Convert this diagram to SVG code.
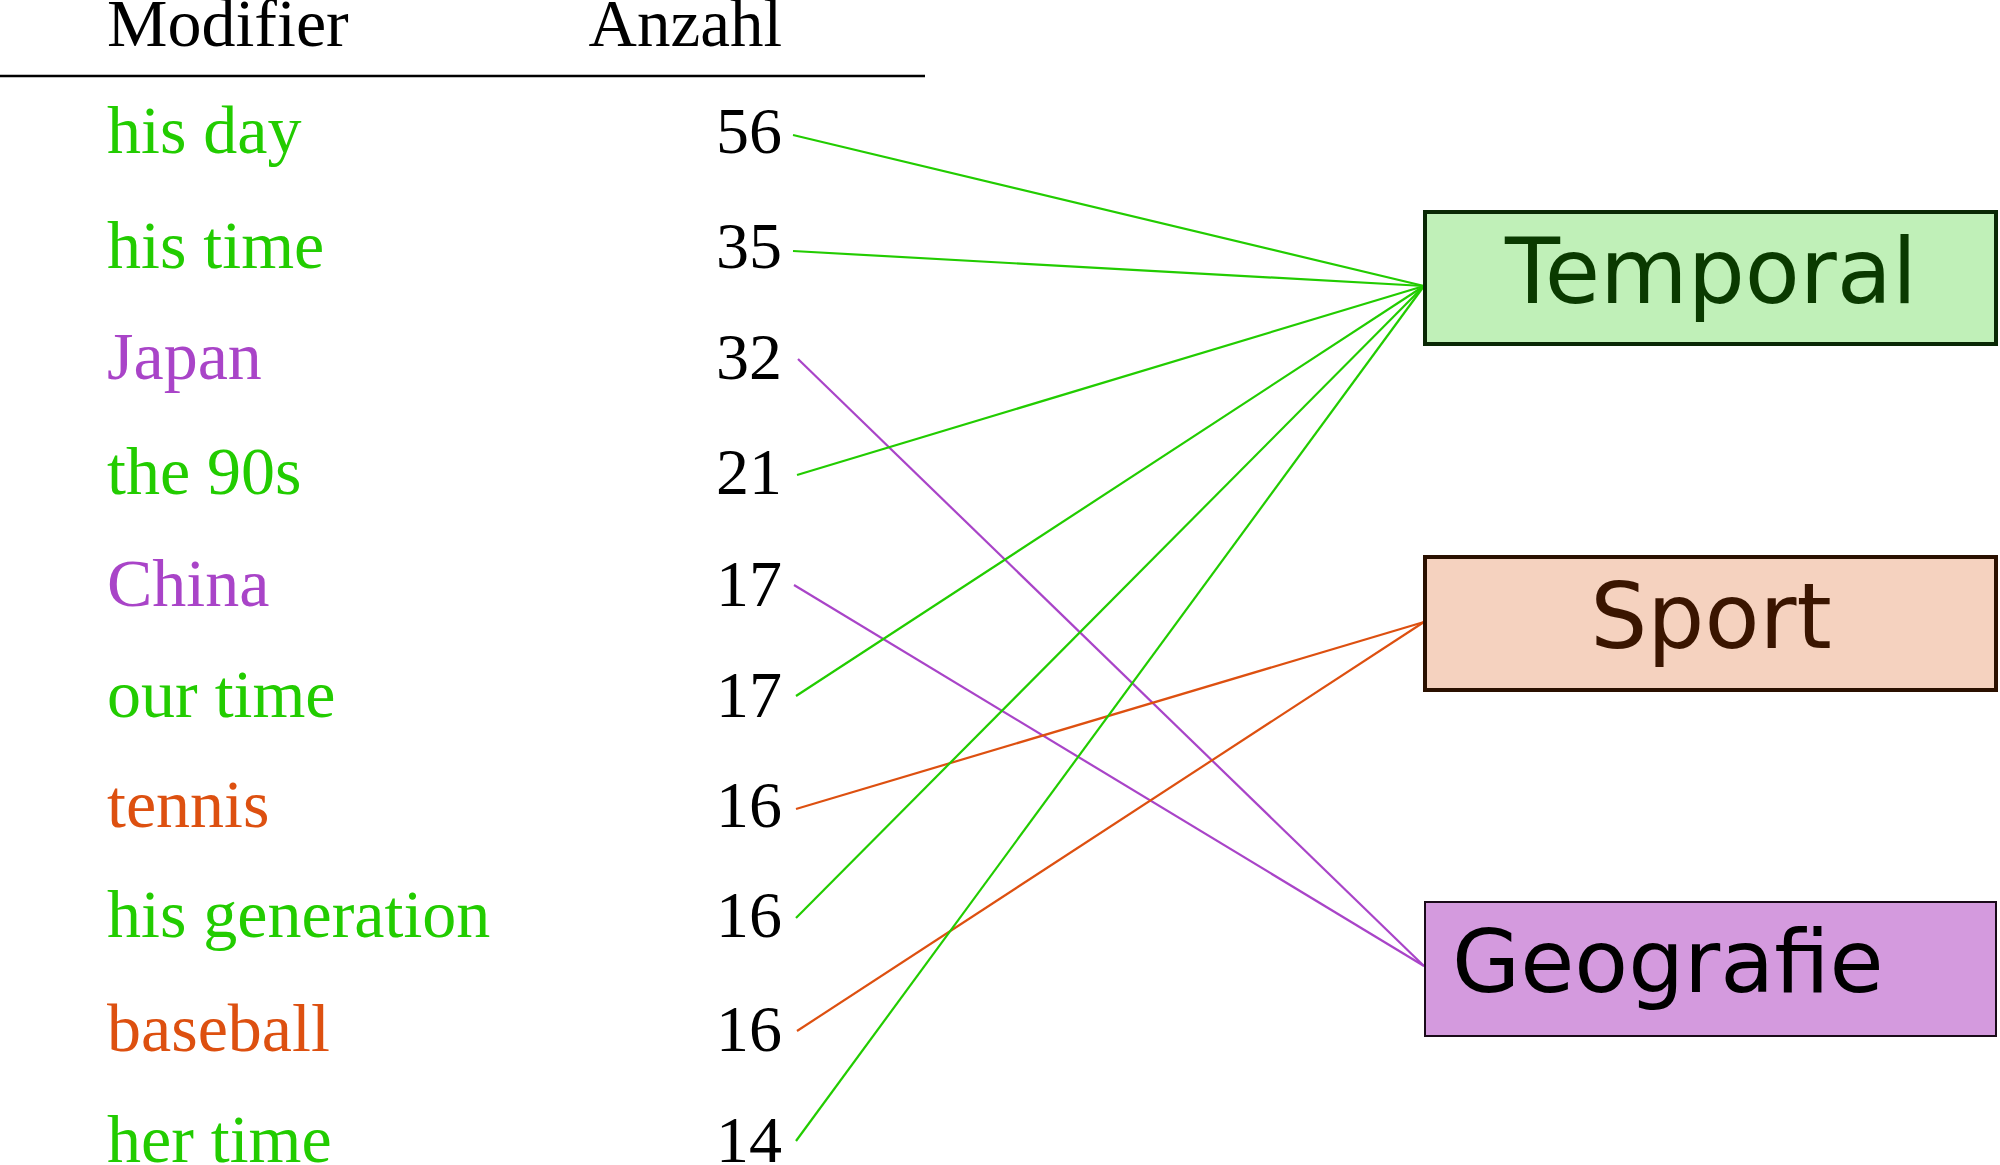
<svg xmlns="http://www.w3.org/2000/svg" width="2000" height="1165" viewBox="0 0 2000 1165">
<style>
.t{font-family:"Liberation Serif","Times New Roman",serif;font-size:68px}
.n{font-family:"Liberation Serif","Times New Roman",serif;font-size:66px;text-anchor:end;fill:#000}
.g{fill:#22cc00}.p{fill:#a944c8}.o{fill:#dd5010}
.lab{font-family:"DejaVu Sans",sans-serif;font-size:90px}
.c line{stroke-width:2.2;fill:none}
.cg{stroke:#22cc00}.cp{stroke:#a944c8}.co{stroke:#dd5010}
</style>
<rect width="2000" height="1165" fill="#fff"/>
<g id="header">
<text class="t" x="107" y="46" fill="#000">Modifier</text>
<text class="n" x="782" y="46" style="font-size:67px">Anzahl</text>
<line x1="0" y1="76" x2="925" y2="76" stroke="#000" stroke-width="2.5"/>
</g>
<g id="row-his-day"><text class="t g" x="107" y="153">his day</text><text class="n" x="782" y="153">56</text></g>
<g id="row-his-time"><text class="t g" x="107" y="268">his time</text><text class="n" x="782" y="268">35</text></g>
<g id="row-japan"><text class="t p" x="107" y="379">Japan</text><text class="n" x="782" y="379">32</text></g>
<g id="row-the-90s"><text class="t g" x="107" y="494">the 90s</text><text class="n" x="782" y="494">21</text></g>
<g id="row-china"><text class="t p" x="107" y="606">China</text><text class="n" x="782" y="606">17</text></g>
<g id="row-our-time"><text class="t g" x="107" y="717">our time</text><text class="n" x="782" y="717">17</text></g>
<g id="row-tennis"><text class="t o" x="107" y="827">tennis</text><text class="n" x="782" y="827">16</text></g>
<g id="row-his-generation"><text class="t g" x="107" y="937">his generation</text><text class="n" x="782" y="937">16</text></g>
<g id="row-baseball"><text class="t o" x="107" y="1051">baseball</text><text class="n" x="782" y="1051">16</text></g>
<g id="row-her-time"><text class="t g" x="107" y="1162">her time</text><text class="n" x="782" y="1162">14</text></g>
<g id="connectors" class="c">
<line class="cg" x1="793" y1="135" x2="1424" y2="286"/>
<line class="cg" x1="793" y1="251" x2="1424" y2="286"/>
<line class="cp" x1="798" y1="359" x2="1424" y2="966"/>
<line class="cg" x1="797" y1="475" x2="1424" y2="286"/>
<line class="cp" x1="794" y1="585" x2="1424" y2="966"/>
<line class="cg" x1="796" y1="696" x2="1424" y2="286"/>
<line class="co" x1="796" y1="809" x2="1424" y2="622"/>
<line class="cg" x1="796" y1="918" x2="1424" y2="286"/>
<line class="co" x1="797" y1="1031" x2="1424" y2="622"/>
<line class="cg" x1="796" y1="1141" x2="1424" y2="286"/>
</g>
<g id="temporal">
<rect x="1425" y="212" width="571" height="132" fill="#c0f0b8" stroke="#0a2805" stroke-width="4"/>
<text class="lab" x="1711" y="303" text-anchor="middle" fill="#0a3a00">Temporal</text>
</g>
<g id="sport">
<rect x="1425" y="557" width="571" height="133" fill="#f5d2bf" stroke="#2a1000" stroke-width="4"/>
<text class="lab" x="1711" y="648" text-anchor="middle" fill="#3a1500">Sport</text>
</g>
<g id="geografie">
<rect x="1425" y="902" width="571" height="134" fill="#d49ade" stroke="#1a0a1a" stroke-width="2"/>
<text class="lab" x="1452" y="992" fill="#000" style="font-size:88px">Geografie</text>
</g>
</svg>
